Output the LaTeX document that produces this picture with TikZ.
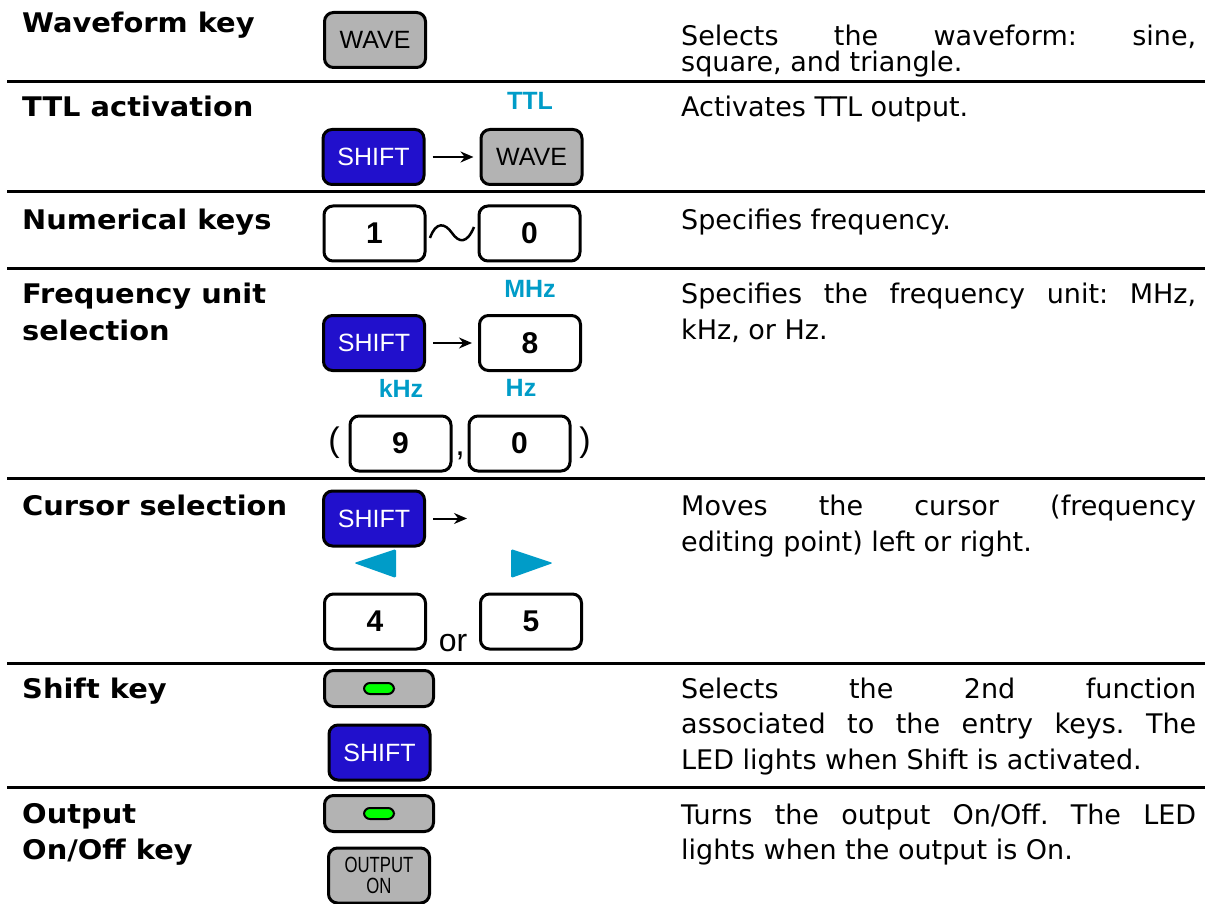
\documentclass[tikz,border=0pt]{standalone}
\usepackage{fontspec}
\setmainfont{DejaVu Sans}[BoldFeatures={FakeStretch=1.07}]
\newfontfamily\keyfam{Liberation Sans}
\usetikzlibrary{arrows.meta,positioning}

\definecolor{keygray}{RGB}{179,179,179}
\definecolor{shiftblue}{RGB}{33,16,204}
\definecolor{hintcyan}{RGB}{0,156,200}
\definecolor{ledgreen}{RGB}{0,255,0}

\frenchspacing
\newcommand{\descfont}{\fontsize{27}{35}\selectfont}
\newcommand{\headfont}{\fontsize{27}{35}\selectfont\bfseries}
\newcommand{\fullline}[1]{\makebox[515pt][s]{#1}}

\tikzset{
  key/.style={draw, line width=3pt, rounded corners=9pt, minimum width=101pt,
    minimum height=55pt, inner sep=0pt, font=\keyfam\fontsize{25}{25}\selectfont},
  graykey/.style={key, fill=keygray},
  shiftkey/.style={key, fill=shiftblue, text=white},
  numkey/.style={key, fill=white, font=\keyfam\bfseries\fontsize{30}{30}\selectfont},
  ledkey/.style={key, fill=keygray, minimum width=109pt, minimum height=36pt},
  lamp/.style={draw, line width=2pt, fill=ledgreen, rounded corners=6pt,
    minimum width=30pt, minimum height=11pt, inner sep=0pt},
  hint/.style={text=hintcyan, inner sep=0pt, font=\keyfam\bfseries\fontsize{25}{25}\selectfont},
  glyph/.style={inner sep=0pt, font=\keyfam\fontsize{34}{34}\selectfont},
  arr/.style={-{Stealth[length=13pt,width=11pt]}, line width=2pt,
    shorten <=7pt, shorten >=6pt},
  head/.style={anchor=base west, inner sep=0pt, font=\headfont},
  desc/.style={anchor=base west, inner sep=0pt, font=\descfont},
  rule/.style={line width=3pt}
}

\begin{document}
\begin{tikzpicture}[x=1pt, y=-1pt]
\useasboundingbox (0,0) rectangle (1205,904);

% table rules
\foreach \y in {82,192,268,478,663,787}
  \draw[rule] (7,\y) -- (1205,\y);

% left column
\node[head] (hwave) at (22,33) {Waveform key};
\node[head] (httl) at (22,117) {TTL activation};
\node[head] (hnum) at (22,230) {Numerical keys};
\node[head] (hfreq) at (22,303) {Frequency unit};
\node[head] (hfreqb) at (22,340) {selection};
\node[head] (hcur) at (22,515) {Cursor selection};
\node[head] (hshift) at (22,698) {Shift key};
\node[head] (hout) at (22,823) {Output};
\node[head] (houtb) at (22,859) {On/Off key};

% right column
\node[desc] (dwave) at (681,46) {\fullline{Selects the waveform: sine,}};
\node[desc] (dwaveb) at (681,72) {square, and triangle.};
\node[desc] (dttl) at (681,117) {Activates TTL output.};
\node[desc] (dnum) at (681,230) {Specifies frequency.};
\node[desc] (dfreq) at (681,303) {\fullline{Specifies the frequency unit: MHz,}};
\node[desc] (dfreqb) at (681,339) {kHz, or Hz.};
\node[desc] (dcur) at (681,515) {\fullline{Moves the cursor (frequency}};
\node[desc] (dcurb) at (681,551) {editing point) left or right.};
\node[desc] (dshift) at (681,698) {\fullline{Selects the 2nd function}};
\node[desc] (dshiftb) at (681,733) {\fullline{associated to the entry keys. The}};
\node[desc] (dshiftc) at (681,769) {LED lights when Shift is activated.};
\node[desc] (dout) at (681,824) {\fullline{Turns the output On/Off. The LED}};
\node[desc] (doutb) at (681,859) {lights when the output is On.};

% waveform
\node[graykey] (wave) at (375,40) {WAVE};

% TTL
\node[shiftkey] (shiftttl) at (373.5,157) {SHIFT};
\node[graykey, right=54pt of shiftttl] (wavettl) {WAVE};
\node[hint] (ttl) at (530,101) {TTL};
\draw[arr] (shiftttl) -- (wavettl);

% numerical keys
\node[numkey] (one) at (374.5,233.5) {1};
\node[numkey, right=51pt of one] (zero) {0};
\draw[line width=2.5pt] (430,238) .. controls (436,221) and (445,223) .. (452,233)
  .. controls (459,243) and (467,244) .. (474,227);

% frequency unit
\node[hint] (mhz) at (530,289) {MHz};
\node[shiftkey] (shiftunit) at (374,343) {SHIFT};
\node[numkey, right=52pt of shiftunit] (eight) {8};
\draw[arr] (shiftunit) -- (eight);
\node[hint] (khz) at (401,388) {kHz};
\node[hint] (hz) at (521,388) {Hz};
\node[numkey] (nine) at (400.5,443.5) {9};
\node[numkey, right=15pt of nine] (zerob) {0};
\node[glyph] (lpar) at (334,443) {(};
\node[glyph] (rpar) at (585,443) {)};
\node[glyph, anchor=base] (comma) at (460,455) {,};

% cursor
\node[shiftkey] (shiftcur) at (374,518.5) {SHIFT};
\coordinate (curend) at (473,518.5);
\draw[arr] (shiftcur) -- (curend);
\fill[hintcyan, rounded corners=1.5pt] (354,563) -- (396,549) -- (396,578) -- cycle;
\fill[hintcyan, rounded corners=1.5pt] (553,563) -- (511,549) -- (511,578) -- cycle;
\node[numkey] (four) at (375,621.5) {4};
\node[numkey, right=52pt of four] (five) {5};
\node[glyph, anchor=base, font=\keyfam\fontsize{32}{32}\selectfont] (orword) at (453,651) {or};

% shift key
\node[ledkey] (shiftled) at (379,688.5) {};
\node[lamp] (shiftlamp) at (shiftled) {};
\node[shiftkey] (shiftkey) at (379.5,752.5) {SHIFT};

% output key
\node[ledkey] (outled) at (379,813.5) {};
\node[lamp] (outlamp) at (outled) {};
\node[graykey, align=center, font=\keyfam\fontsize{22}{21}\selectfont] (outkey) at (379,875.5)
  {\scalebox{0.76}[1]{OUTPUT}\\\scalebox{0.76}[1]{ON}};
\end{tikzpicture}
\end{document}
